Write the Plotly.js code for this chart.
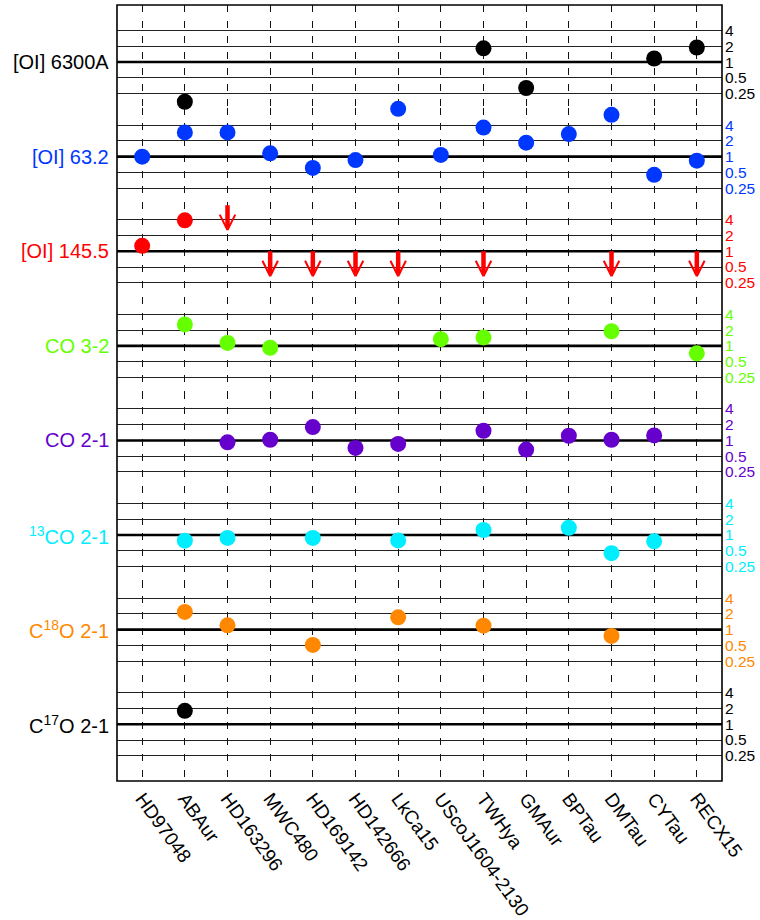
<!DOCTYPE html>
<html>
<head>
<meta charset="utf-8">
<script src="https://cdn.plot.ly/plotly-3.0.1.min.js"></script>
<style>html,body{margin:0;padding:0;background:#fff;}#chart{width:760px;height:920px;}</style>
</head>
<body>
<div id="chart"></div>
<script>
// ---- data ----
var sources = ['HD97048','ABAur','HD163296','MWC480','HD169142','HD142666','LkCa15',
  'UScoJ1604-2130','TWHya','GMAur','BPTau','DMTau','CYTau','RECX15'];
var rowLabels = ['[OI] 6300A','[OI] 63.2','[OI] 145.5','CO 3-2','CO 2-1',
  '<sup>13</sup>CO 2-1','C<sup>18</sup>O 2-1','C<sup>17</sup>O 2-1'];
var rowColors = ['#000000','#0037ff','#ff0000','#66ff00','#6600cc','#00eeff','#ff8800','#000000'];
var tickVals = [0.25, 0.5, 1, 2, 4];
var tickText = ['0.25','0.5','1','2','4'];
var refLevel = 1;

var oi6300 = [null,0.175,null,null,null,null,null,null,1.83,0.32,null,null,1.17,1.9];
var oi632  = [1.0,2.9,2.9,1.16,0.61,0.86,8.2,1.08,3.6,1.85,2.7,6.3,0.45,0.84];
var oi1455 = [1.27,3.9,null,null,null,null,null,null,null,null,null,null,null,null];
var oi1455Upper = [null,null,7.6,1,1,1,1,null,1,null,null,1,null,1];
var co32   = [null,2.57,1.14,0.92,null,null,null,1.34,1.45,null,null,1.9,null,0.72];
var co21   = [null,null,0.92,1.03,1.8,0.72,0.86,null,1.53,0.67,1.23,1.03,1.25,null];
var co13   = [null,0.78,0.88,null,0.88,null,0.79,null,1.25,null,1.38,0.45,0.76,null];
var c18o   = [null,2.18,1.21,null,0.51,null,1.72,null,1.19,null,null,0.76,null,null];
var c17o   = [null,1.8,null,null,null,null,null,null,null,null,null,null,null,null];
var rowData = [oi6300, oi632, oi1455, co32, co21, co13, c18o, c17o];
var upperLimits = {2: oi1455Upper};

(function () {
  // ---- layout geometry (octaves per row) ----
  var nRows = rowData.length;
  var spanUp = 3.1, spanDn = 2.9, topExtra = 0.52, botExtra = 0.7;
  var total = nRows * (spanUp + spanDn) + topExtra + botExtra;
  var xIdx = sources.map(function(_, i){ return i; });

  var traces = [];
  var layout = {
    width: 760, height: 920,
    margin: {l: 117, r: 38, t: 5, b: 139.3},
    paper_bgcolor: '#fff', plot_bgcolor: '#fff',
    showlegend: false,
    font: {family: 'Liberation Sans, Arial, sans-serif', color: '#000'},
    xaxis: {
      range: [-0.59, 13.59], tickvals: xIdx, ticktext: sources,
      tickangle: 54, tickfont: {size: 19, color: '#000'},
      showgrid: true, gridcolor: '#111', gridwidth: 1, griddash: '7px,8.7px',
      zeroline: false, showline: false, ticks: '', anchor: 'y8', ticklabelstandoff: 2,
      fixedrange: true
    },
    annotations: [],
    shapes: [{type: 'rect', xref: 'paper', yref: 'paper', x0: 0, x1: 1, y0: 0, y1: 1,
              line: {color: '#000', width: 1.6}, layer: 'above'}]
  };

  var offset = 0;
  for (var r = 0; r < nRows; r++) {
    var up = spanUp + (r === 0 ? topExtra : 0);
    var dn = spanDn + (r === nRows - 1 ? botExtra : 0);
    var domTop = 1 - offset / total;
    offset += up + dn;
    var domBot = 1 - offset / total;
    var axName = r === 0 ? 'yaxis' : 'yaxis' + (r + 1);
    var yref = r === 0 ? 'y' : 'y' + (r + 1);
    layout[axName] = {
      type: 'log',
      domain: [Math.max(0, domBot), Math.min(1, domTop)],
      range: [-dn * Math.log10(2), up * Math.log10(2)],
      side: 'right', anchor: 'x',
      tickvals: tickVals, ticktext: tickText,
      tickfont: {size: 15.5, color: rowColors[r]},
      showgrid: true, gridcolor: '#222', gridwidth: 1,
      zeroline: false, showline: false, ticks: '', ticklabelstandoff: 2,
      fixedrange: true
    };
    // reference line at 1
    traces.push({
      x: [-1, sources.length], y: [refLevel, refLevel], xaxis: 'x', yaxis: yref,
      mode: 'lines', line: {color: '#000', width: 2.6}, hoverinfo: 'skip'
    });
    // detections
    traces.push({
      x: xIdx, y: rowData[r], xaxis: 'x', yaxis: yref, mode: 'markers',
      marker: {size: 16, color: rowColors[r], line: {width: 0}},
      cliponaxis: false, hoverinfo: 'x+y'
    });
    // row label
    layout.annotations.push({
      xref: 'paper', yref: yref, x: 0, y: Math.log10(refLevel), xanchor: 'right', yanchor: 'middle',
      xshift: -6, text: rowLabels[r], showarrow: false,
      font: {size: 20, color: rowColors[r]}
    });
    // upper limits: thick shaft + thin V head
    if (upperLimits[r]) {
      var col = rowColors[r];
      upperLimits[r].forEach(function(v, i) {
        if (v === null) return;
        var ly = Math.log10(v);
        layout.annotations.push({
          xref: 'x', yref: yref, x: i, y: ly, ax: 0, ay: 24,
          text: '', showarrow: true, arrowhead: 0, arrowwidth: 4.5, arrowcolor: col,
          standoff: 0, startstandoff: 0
        });
        [-8.5, 8.5].forEach(function(dx) {
          layout.annotations.push({
            xref: 'x', yref: yref, x: i, y: ly, yshift: -25, ax: dx, ay: -17,
            text: '', showarrow: true, arrowhead: 0, arrowwidth: 2, arrowcolor: col,
            standoff: 0, startstandoff: 0
          });
        });
      });
    }
  }

  Plotly.newPlot('chart', traces, layout, {displayModeBar: false, staticPlot: true});
})();
</script>
</body>
</html>
